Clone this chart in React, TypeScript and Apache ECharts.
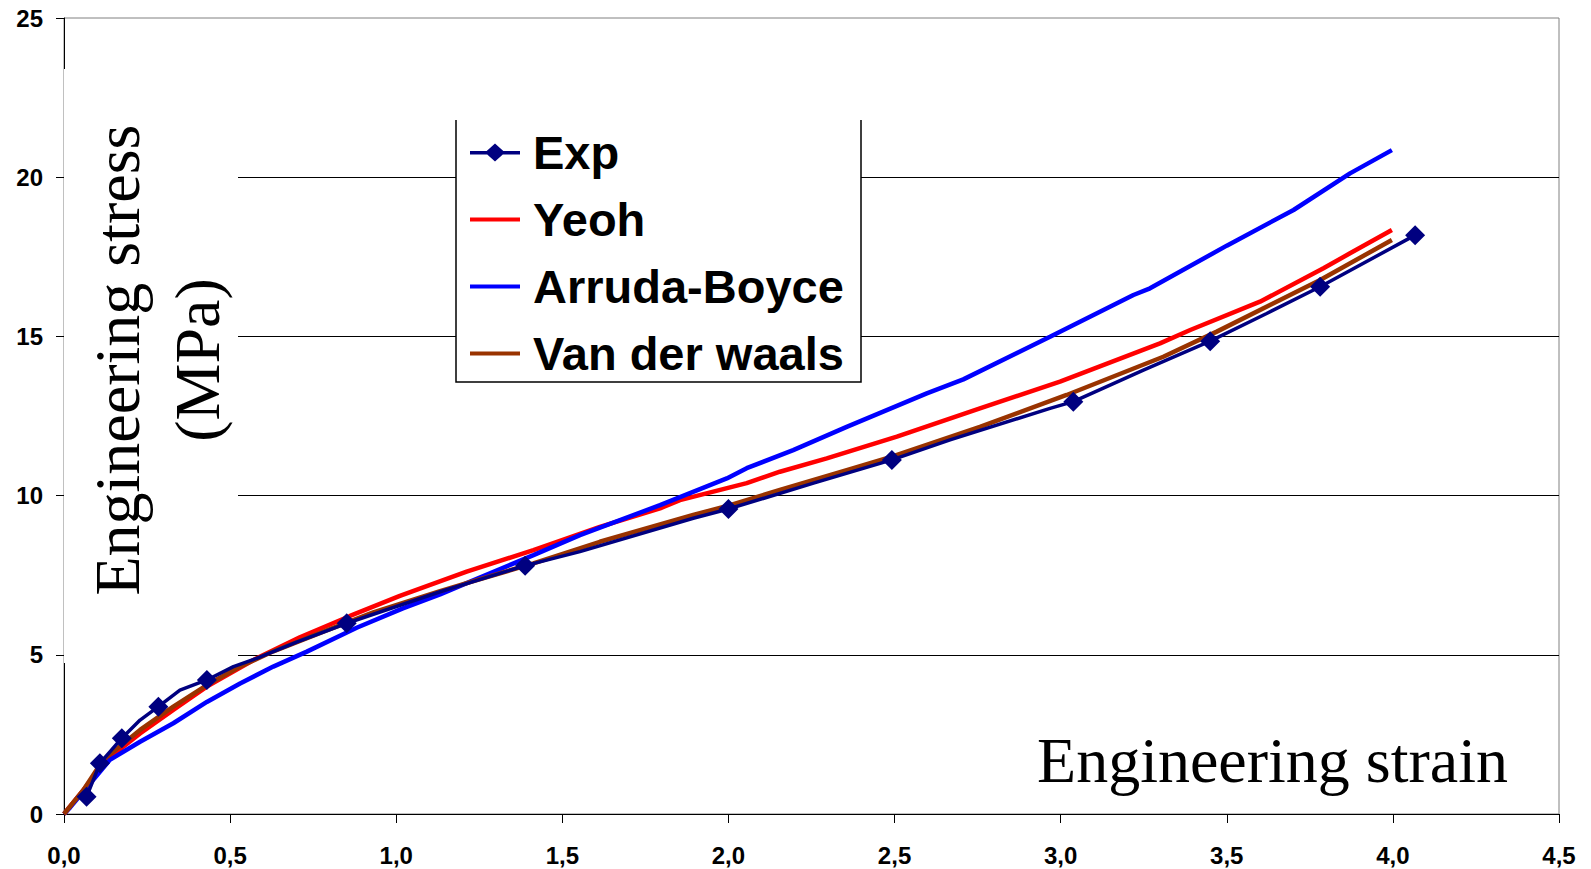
import React, { useEffect, useRef } from "react";
import * as echarts from "echarts";

// ---- Data ----
const xTicks = [0, 0.5, 1, 1.5, 2, 2.5, 3, 3.5, 4, 4.5];
const yTicks = [0, 5, 10, 15, 20, 25];

// Experimental curve; marker flags say where a diamond is drawn
const expStrain = [0.068, 0.108, 0.174, 0.229, 0.284, 0.349, 0.43, 0.51, 0.58, 0.7, 0.851, 1.132, 1.388, 1.553, 1.894, 2.0, 2.256, 2.492, 2.667, 2.968, 3.038, 3.249, 3.45, 3.62, 3.781, 4.067];
const expStress = [0.54, 1.59, 2.38, 2.95, 3.37, 3.89, 4.21, 4.63, 4.89, 5.4, 5.99, 6.98, 7.8, 8.24, 9.29, 9.58, 10.39, 11.12, 11.75, 12.74, 12.95, 13.94, 14.85, 15.72, 16.56, 18.18];
const expMarker = [1, 1, 1, 0, 1, 0, 1, 0, 0, 0, 1, 0, 1, 0, 0, 1, 0, 1, 0, 0, 1, 0, 1, 0, 1, 1];

const yeohStrain = [0, 0.058, 0.128, 0.229, 0.329, 0.43, 0.58, 0.71, 0.861, 1.011, 1.212, 1.413, 1.613, 1.794, 1.854, 2.055, 2.155, 2.296, 2.507, 2.757, 2.998, 3.299, 3.39, 3.6, 3.791, 3.871, 3.997];
const yeohStress = [0, 0.75, 1.7, 2.53, 3.27, 4.0, 4.89, 5.55, 6.22, 6.85, 7.61, 8.29, 9.02, 9.6, 9.86, 10.39, 10.75, 11.17, 11.85, 12.74, 13.58, 14.78, 15.2, 16.09, 17.14, 17.61, 18.34];

const abStrain = [0, 0.018, 0.078, 0.138, 0.229, 0.329, 0.43, 0.53, 0.63, 0.731, 0.881, 1.02, 1.132, 1.212, 1.413, 1.553, 1.794, 1.995, 2.055, 2.195, 2.356, 2.597, 2.707, 2.968, 3.219, 3.269, 3.5, 3.701, 3.871, 3.997];
const abStress = [0, 0.2, 0.95, 1.7, 2.27, 2.85, 3.52, 4.1, 4.63, 5.1, 5.85, 6.46, 6.9, 7.25, 8.13, 8.76, 9.7, 10.54, 10.86, 11.43, 12.16, 13.21, 13.65, 14.99, 16.3, 16.51, 17.85, 18.97, 20.12, 20.85];

const vdwStrain = [0, 0.058, 0.118, 0.229, 0.329, 0.43, 0.53, 0.63, 0.781, 0.931, 1.132, 1.212, 1.413, 1.613, 1.894, 2.005, 2.155, 2.356, 2.492, 2.757, 3.018, 3.309, 3.47, 3.781, 3.997];
const vdwStress = [0, 0.75, 1.7, 2.64, 3.37, 4.05, 4.63, 5.11, 5.73, 6.33, 7.0, 7.25, 7.87, 8.55, 9.39, 9.7, 10.18, 10.8, 11.22, 12.16, 13.16, 14.36, 15.15, 16.77, 18.03];

const seriesNames = ["Exp", "Yeoh", "Arruda-Boyce", "Van der waals"];
const seriesColors = ["#000080", "#FF0000", "#0000FF", "#993300"];
const xTitle = "Engineering strain";
const yTitle = "Engineering stress\n(MPa)";

// legend icons: a bar (with invisible corner specks to fix the box) and a bar with a diamond
const ICON_LINE = "path://M0,7h50v4H0z M0,0h0.05v0.05H0z M49.95,17.95h0.05v0.05h-0.05z";
const ICON_LINE_DIAMOND = "path://M0,7.5h50v3.5H0z M25,0 L35,9 L25,18 L15,9Z";

const pairs = (xs: number[], ys: number[]) => xs.map((x, i) => [x, ys[i]]);

export default function App() {
  const ref = useRef<HTMLDivElement>(null);
  useEffect(() => {
    document.body.style.margin = "0";
    if (!ref.current) return;
    const chart = echarts.init(ref.current, null, { renderer: "svg" });
    const labelStyle = {
      fontFamily: "Liberation Sans",
      fontWeight: "bold" as const,
      fontSize: 24,
      color: "#000",
    };
    const expData = expStrain.map((x, i) => ({
      value: [x, expStress[i]],
      symbol: expMarker[i] ? "diamond" : "none",
    }));
    chart.setOption({
      animation: false,
      backgroundColor: "#fff",
      grid: {
        left: 64,
        right: 32,
        top: 18,
        bottom: 55,
        show: true,
        borderColor: "#808080",
        borderWidth: 1,
        backgroundColor: "transparent",
      },
      xAxis: {
        type: "value",
        min: xTicks[0],
        max: xTicks[xTicks.length - 1],
        interval: 0.5,
        axisLine: { show: true, lineStyle: { color: "#000", width: 1 } },
        axisTick: { show: true, inside: false, length: 9, lineStyle: { color: "#000" } },
        axisLabel: {
          ...labelStyle,
          margin: 29,
          formatter: (v: number) => v.toFixed(1).replace(".", ","),
        },
        splitLine: { show: false },
      },
      yAxis: {
        type: "value",
        min: yTicks[0],
        max: yTicks[yTicks.length - 1],
        interval: 5,
        axisLine: { show: true, lineStyle: { color: "#000", width: 1 } },
        axisTick: { show: true, inside: false, length: 8, lineStyle: { color: "#000" } },
        axisLabel: { ...labelStyle, margin: 21 },
        splitLine: {
          show: true,
          showMinLine: false,
          showMaxLine: false,
          lineStyle: { color: "#000", width: 1 },
        },
      },
      legend: {
        data: [
          { name: seriesNames[0], icon: ICON_LINE_DIAMOND },
          { name: seriesNames[1], icon: ICON_LINE },
          { name: seriesNames[2], icon: ICON_LINE },
          { name: seriesNames[3], icon: ICON_LINE },
        ],
        orient: "vertical",
        left: 470,
        top: 129,
        itemWidth: 50,
        itemHeight: 18,
        itemGap: 20,
        padding: 0,
        z: 200,
        textStyle: {
          fontFamily: "Liberation Sans",
          fontWeight: "bold",
          fontSize: 47,
          color: "#000",
          padding: [0, 0, 0, 8],
        },
      },
      graphic: [
        {
          type: "rect",
          z: 100,
          shape: { x: 64, y: 69, width: 174, height: 594 },
          style: { fill: "#fff", stroke: "none" },
        },
        {
          type: "text",
          z: 101,
          x: 157,
          y: 360,
          rotation: Math.PI / 2,
          style: {
            text: yTitle,
            fontFamily: "Liberation Serif",
            fontSize: 64,
            lineHeight: 80,
            fill: "#000",
            align: "center",
            verticalAlign: "middle",
          },
        },
        {
          type: "text",
          z: 101,
          x: 1508,
          y: 760,
          style: {
            text: xTitle,
            fontFamily: "Liberation Serif",
            fontSize: 64,
            fill: "#000",
            align: "right",
            verticalAlign: "middle",
          },
        },
        {
          type: "rect",
          z: 150,
          shape: { x: 456, y: 120, width: 405, height: 262 },
          style: { fill: "#fff", stroke: "none" },
        },
        {
          type: "polyline",
          z: 151,
          shape: { points: [[456, 120], [456, 382], [861, 382], [861, 120]] },
          style: { stroke: "#000", lineWidth: 1.5, fill: "none" },
        },
      ],
      series: [
        {
          name: seriesNames[0],
          type: "line",
          z: 4,
          data: expData,
          symbol: "diamond",
          showAllSymbol: true,
          symbolSize: 20,
          color: seriesColors[0],
          itemStyle: { color: seriesColors[0] },
          lineStyle: { color: seriesColors[0], width: 3.5 },
        },
        {
          name: seriesNames[1],
          type: "line",
          z: 2,
          data: pairs(yeohStrain, yeohStress),
          symbol: "none",
          color: seriesColors[1],
          lineStyle: { color: seriesColors[1], width: 4.5 },
        },
        {
          name: seriesNames[2],
          type: "line",
          z: 2,
          data: pairs(abStrain, abStress),
          symbol: "none",
          color: seriesColors[2],
          lineStyle: { color: seriesColors[2], width: 4.5 },
        },
        {
          name: seriesNames[3],
          type: "line",
          z: 3,
          data: pairs(vdwStrain, vdwStress),
          symbol: "none",
          color: seriesColors[3],
          lineStyle: { color: seriesColors[3], width: 4.5 },
        },
      ],
    });
    return () => chart.dispose();
  }, []);
  return <div ref={ref} style={{ width: 1591, height: 869 }} />;
}
